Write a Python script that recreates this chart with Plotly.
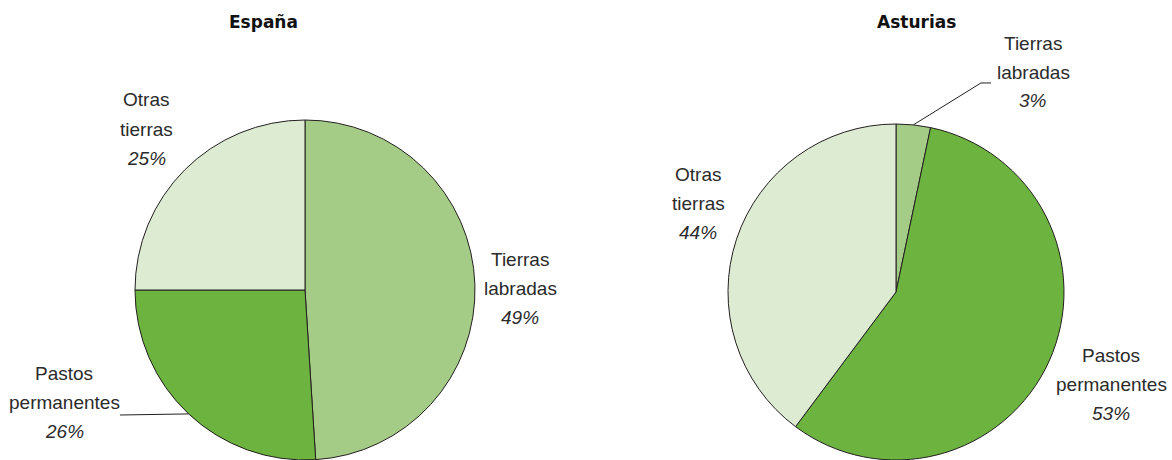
import math
import plotly.graph_objects as go

# ---------------- data ----------------
categories = ["Tierras labradas", "Pastos permanentes", "Otras tierras"]
label_lines = [["Tierras", "labradas"], ["Pastos", "permanentes"], ["Otras", "tierras"]]

espana_values = [49, 26, 25]
espana_pct_text = ["49%", "26%", "25%"]

# slice shares as drawn in the picture, and the percentages printed on it
asturias_values = [3.3, 56.9, 39.8]
asturias_pct_text = ["3%", "53%", "44%"]

titles = ["España", "Asturias"]

# ---------------- styles / layout ----------------
W, H = 1172, 460
colors = ["#a5cc87", "#6db33f", "#ddebd2"]
line_col = "#231f20"
text_col = "#2b2b2b"
FONT = "Liberation Sans, Arial, sans-serif"
TFONT = "DejaVu Sans, sans-serif"
LBL = 19

pies = [
    dict(values=espana_values, pct=espana_pct_text, cx=305, r=170,
         title_xy=(263, 22),
         labels_xy=[(520, 259), (64, 373), (146, 100)],
         line_dy=29,
         leader={1: [(120, 415)]}),
    dict(values=asturias_values, pct=asturias_pct_text, cx=896, r=168,
         title_xy=(916, 22),
         labels_xy=[(1033, 43), (1111, 355), (698, 174)],
         line_dy=29,
         leader={0: [(981, 83), (991, 83)]}),
]


def px(x):
    return x / W


def py(y):
    return 1 - y / H


fig = go.Figure()
annotations = []
shapes = []

for n, p in enumerate(pies):
    r = p["r"]
    cy = H - r  # domain starts at the bottom
    fig.add_trace(go.Pie(
        labels=categories,
        values=p["values"],
        sort=False,
        direction="clockwise",
        rotation=0,
        marker=dict(colors=colors, line=dict(color=line_col, width=1)),
        textinfo="none",
        hoverinfo="label+percent",
        showlegend=False,
        domain=dict(x=[px(p["cx"]) - 0.2, px(p["cx"]) + 0.2], y=[0, 2 * r / H]),
    ))
    # title
    tx, ty = p["title_xy"]
    annotations.append(dict(x=px(tx), y=py(ty), xref="paper", yref="paper",
                            text="<b>%s</b>" % titles[n], showarrow=False,
                            xanchor="center", yanchor="middle",
                            font=dict(family=TFONT, size=17, color="#111111")))
    # labels
    for i, (lx, ly) in enumerate(p["labels_xy"]):
        lines = label_lines[i] + ["<i>%s</i>" % p["pct"][i]]
        for k, t in enumerate(lines):
            annotations.append(dict(x=px(lx), y=py(ly + k * p["line_dy"]),
                                    xref="paper", yref="paper", text=t,
                                    showarrow=False, xanchor="center", yanchor="middle",
                                    font=dict(family=FONT, size=LBL, color=text_col)))
    # leader lines from the middle of the slice on the rim
    total = sum(p["values"])
    cum = 0
    for i, v in enumerate(p["values"]):
        mid = (cum + v / 2) / total * 2 * math.pi
        cum += v
        if i in p["leader"]:
            x0 = p["cx"] + r * math.sin(mid)
            y0 = cy - r * math.cos(mid)
            pts = [(x0, y0)] + p["leader"][i]
            path = "M " + " L ".join("%.4f,%.4f" % (px(a), py(b)) for a, b in pts)
            shapes.append(dict(type="path", path=path, xref="paper", yref="paper",
                               line=dict(color=line_col, width=1)))

fig.update_layout(
    width=W, height=H,
    margin=dict(l=0, r=0, t=0, b=0),
    paper_bgcolor="white", plot_bgcolor="white",
    annotations=annotations, shapes=shapes,
)

fig.write_html("out.html",
               config={"displayModeBar": False},
               post_script="document.body.style.margin='0';document.body.style.overflow='hidden';")
